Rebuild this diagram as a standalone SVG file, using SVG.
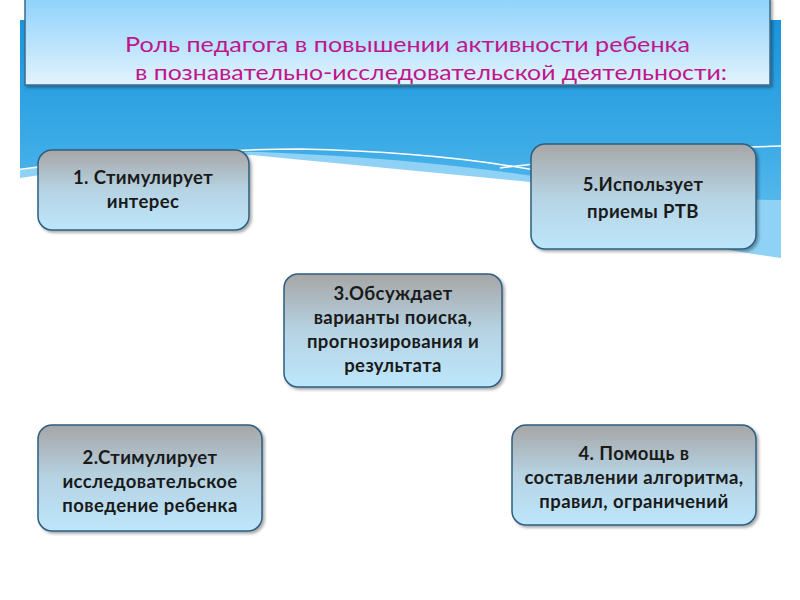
<svg xmlns="http://www.w3.org/2000/svg" width="800" height="600" viewBox="0 0 800 600">
<defs>
<linearGradient id="band" x1="0" y1="0" x2="0" y2="1">
<stop offset="0" stop-color="#1a94dc"/>
<stop offset="0.5" stop-color="#3aaae6"/>
<stop offset="1" stop-color="#6cc4f0"/>
</linearGradient>
<linearGradient id="title" x1="0" y1="0" x2="0" y2="1">
<stop offset="0" stop-color="#8ed2fb"/>
<stop offset="1" stop-color="#e2f3fd"/>
</linearGradient>
<linearGradient id="node" x1="0" y1="0" x2="0" y2="1">
<stop offset="0" stop-color="#a6a6a6"/>
<stop offset="0.5" stop-color="#b6d3e3"/>
<stop offset="1" stop-color="#bde6fb"/>
</linearGradient>
<filter id="sh" x="-10%" y="-10%" width="130%" height="130%">
<feDropShadow dx="2" dy="2" stdDeviation="1.5" flood-color="#000" flood-opacity="0.35"/>
</filter>
<style>
.n{fill:url(#node);stroke:#2e5e80;stroke-width:1.5;filter:url(#sh)}
.t{font-family:Lato,"Liberation Sans",sans-serif;font-weight:bold;font-size:18.5px;letter-spacing:0.4px;fill:#1a1a1a;text-anchor:middle}
.h{font-family:Lato,"Liberation Sans",sans-serif;font-size:22px;fill:#c0168c}
</style>
</defs>
<rect width="800" height="600" fill="#ffffff"/>
<g id="background">
<rect x="20" y="20" width="761" height="240" fill="url(#band)"/>
<path d="M20,170 Q150,150 260,152 Q420,158 560,180 Q680,200 781,200 L781,262 L20,262 Z" fill="#8fd2f5"/>
<path d="M20,178 Q140,160 252,155 L530,182 Q650,240 760,255 L781,258 L781,600 L20,600 Z" fill="#ffffff"/>
<path d="M0,172 Q150,150 300,149 Q450,152 560,175" fill="none" stroke="#ffffff" stroke-width="1.5"/>
<path d="M500,168 Q650,150 781,146" fill="none" stroke="#ffffff" stroke-width="1.5"/>
</g>
<g id="title-box">
<rect x="25" y="-2" width="745" height="87" fill="url(#title)" stroke="#3c6b8c" stroke-width="1.5" filter="url(#sh)"/>
<text class="h" x="125" y="52" textLength="565" lengthAdjust="spacingAndGlyphs">Роль педагога в повышении активности ребенка</text>
<text class="h" x="135" y="80" textLength="592" lengthAdjust="spacingAndGlyphs">в  познавательно-исследовательской деятельности:</text>
</g>
<g id="node1">
<rect class="n" x="38" y="150" width="211" height="80" rx="14"/>
<text class="t" x="143" y="184">1. Стимулирует</text>
<text class="t" x="143" y="208">интерес</text>
</g>
<g id="node5">
<rect class="n" x="531" y="144" width="225" height="105" rx="14"/>
<text class="t" x="643" y="191">5.Использует</text>
<text class="t" x="643" y="218">приемы РТВ</text>
</g>
<g id="node3">
<rect class="n" x="284" y="274" width="218" height="113" rx="14"/>
<text class="t" x="393" y="300">3.Обсуждает</text>
<text class="t" x="393" y="324">варианты поиска,</text>
<text class="t" x="393" y="348">прогнозирования и</text>
<text class="t" x="393" y="372">результата</text>
</g>
<g id="node2">
<rect class="n" x="38" y="425" width="224" height="106" rx="14"/>
<text class="t" x="150" y="464">2.Стимулирует</text>
<text class="t" x="150" y="488">исследовательское</text>
<text class="t" x="150" y="512">поведение ребенка</text>
</g>
<g id="node4">
<rect class="n" x="512" y="425" width="244" height="100" rx="14"/>
<text class="t" x="634" y="460">4. Помощь в</text>
<text class="t" x="634" y="484">составлении алгоритма,</text>
<text class="t" x="634" y="508">правил, ограничений</text>
</g>
<g id="connectors"/>
</svg>
